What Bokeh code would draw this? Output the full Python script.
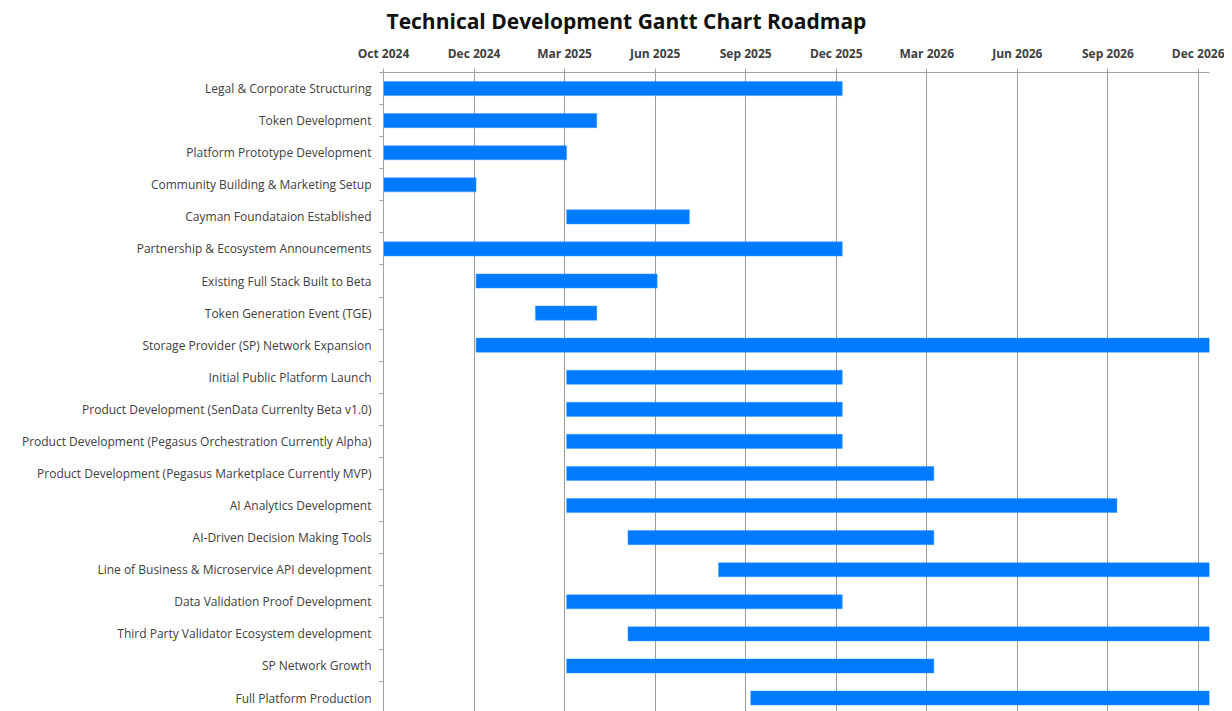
import pandas as pd
from bokeh.plotting import figure
from bokeh.models import (ColumnDataSource, FixedTicker, DatetimeTickFormatter,
                          Range1d, Title)
from bokeh.embed import file_html
from bokeh.resources import INLINE

title_text = "Technical Development Gantt Chart Roadmap"
tasks = [
    "Legal & Corporate Structuring",
    "Token Development",
    "Platform Prototype Development",
    "Community Building & Marketing Setup",
    "Cayman Foundataion Established",
    "Partnership & Ecosystem Announcements",
    "Existing Full Stack Built to Beta",
    "Token Generation Event (TGE)",
    "Storage Provider (SP) Network Expansion",
    "Initial Public Platform Launch",
    "Product Development (SenData Currenlty Beta v1.0)",
    "Product Development (Pegasus Orchestration Currently Alpha)",
    "Product Development (Pegasus Marketplace Currently MVP)",
    "AI Analytics Development",
    "AI-Driven Decision Making Tools",
    "Line of Business & Microservice API development",
    "Data Validation Proof Development",
    "Third Party Validator Ecosystem development",
    "SP Network Growth",
    "Full Platform Production",
]
start_dates = [
    "2024-10-01", "2024-10-01", "2024-10-01", "2024-10-01", "2025-04-01",
    "2024-10-01", "2025-01-01", "2025-03-01", "2025-01-01", "2025-04-01",
    "2025-04-01", "2025-04-01", "2025-04-01", "2025-04-01", "2025-06-01",
    "2025-08-30", "2025-04-01", "2025-06-01", "2025-04-01", "2025-10-01",
]
end_dates = [
    "2025-12-31", "2025-05-01", "2025-04-01", "2025-01-01", "2025-08-01",
    "2025-12-31", "2025-06-30", "2025-05-01", "2026-12-31", "2025-12-31",
    "2025-12-31", "2025-12-31", "2026-04-01", "2026-09-30", "2026-04-01",
    "2026-12-31", "2025-12-31", "2026-12-31", "2026-04-01", "2026-12-31",
]
tick_dates = [
    "2024-10-01", "2024-12-30", "2025-03-30", "2025-06-28", "2025-09-26",
    "2025-12-25", "2026-03-25", "2026-06-23", "2026-09-21", "2026-12-20",
]
axis_start = "2024-10-01"
axis_end = "2026-12-31"

rows = list(range(len(tasks)))
src = ColumnDataSource(dict(
    y=rows,
    left=pd.to_datetime(start_dates),
    right=pd.to_datetime(end_dates),
    task=tasks,
))

def ms(d):
    return pd.Timestamp(d).value / 1e6

FONT = "Open Sans"

p = figure(width=1224, height=711, output_backend="svg", toolbar_location=None,
           x_axis_type="datetime", x_axis_location="above",
           x_range=Range1d(ms(axis_start), ms(axis_end)),
           y_range=Range1d(len(tasks) - 0.58, -0.5),
           min_border_left=383, min_border_right=15, min_border_top=72,
           min_border_bottom=0)
p.outline_line_color = None
p.background_fill_color = "white"
p.border_fill_color = "white"

p.title = Title(text=title_text, align="left", vertical_align="top",
                offset=3, standoff=10, text_font=FONT, text_font_size="21px",
                text_font_style="bold", text_color="#111111")

p.hbar(y="y", left="left", right="right", height=0.44, source=src,
       fill_color="#007BFF", line_color="#3d9bff", line_width=0.5)

# x axis
xt = FixedTicker(ticks=[ms(d) for d in tick_dates])
p.xaxis.ticker = xt
p.xaxis.formatter = DatetimeTickFormatter(
    milliseconds="%b %Y", seconds="%b %Y", minsec="%b %Y", minutes="%b %Y",
    hourmin="%b %Y", hours="%b %Y", days="%b %Y", months="%b %Y", years="%b %Y")
p.xaxis.axis_line_color = "#a0a0a0"
p.xaxis.major_tick_line_color = "#a0a0a0"
p.xaxis.major_tick_out = 4
p.xaxis.major_tick_in = 0
p.xaxis.minor_tick_line_color = None
p.xaxis.major_label_text_font = FONT
p.xaxis.major_label_text_font_size = "12px"
p.xaxis.major_label_text_font_style = "bold"
p.xaxis.major_label_text_color = "#404040"
p.xaxis.major_label_standoff = 7
p.xgrid.ticker = xt
p.xgrid.grid_line_color = "#9a9a9a"
p.xgrid.grid_line_width = 1

# y axis
yt = FixedTicker(ticks=rows, minor_ticks=[i - 0.5 for i in range(len(tasks) + 1)])
p.yaxis.ticker = yt
p.yaxis.major_label_overrides = {i: t for i, t in enumerate(tasks)}
p.yaxis.major_tick_out = 0
p.yaxis.major_tick_in = 0
p.yaxis.minor_tick_out = 4
p.yaxis.minor_tick_in = 0
p.yaxis.minor_tick_line_color = "#a0a0a0"
p.yaxis.axis_line_color = "#a0a0a0"
p.yaxis.major_label_text_font = FONT
p.yaxis.major_label_text_font_size = "12px"
p.yaxis.major_label_text_color = "#404040"
p.yaxis.major_label_standoff = 8
p.ygrid.grid_line_color = None

open("out.html", "w").write(file_html(p, INLINE))
